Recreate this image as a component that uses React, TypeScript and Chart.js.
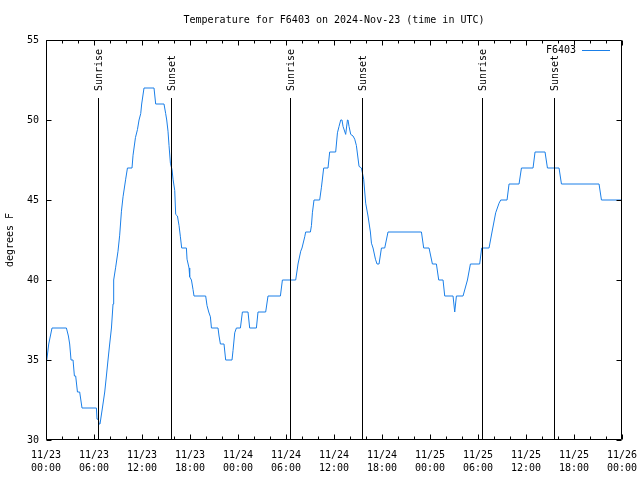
import React, { useEffect, useRef } from "react";
import { Chart, registerables } from "chart.js";

Chart.register(...registerables);

const TITLE = "Temperature for F6403 on 2024-Nov-23 (time in UTC)";
const SERIES_NAME = "F6403";
const Y_LABEL = "degrees F";

// hours since 2024-11-23 00:00 UTC
const HOURS = [
  0.1, 0.34, 0.75, 2.55, 2.8, 2.96, 3.13, 3.38, 3.55, 3.71, 3.93, 4.21, 4.5, 6.3, 6.38, 6.55, 6.63, 6.75,
  7.05, 7.34, 7.55, 7.75, 7.96, 8.18, 8.38, 8.46, 8.71, 9.0, 9.21, 9.43, 9.63, 9.96, 10.18, 10.75, 10.88,
  11.18, 11.43, 11.63, 11.84, 11.96, 12.25, 13.5, 13.71, 14.75, 14.96, 15.09, 15.25, 15.38, 15.55, 15.75,
  15.88, 16.09, 16.21, 16.43, 16.63, 16.8, 16.96, 17.55, 17.63, 17.88, 17.96, 18.18, 18.38, 18.5, 19.96,
  20.13, 20.34, 20.55, 20.68, 21.5, 21.63, 21.8, 22.25, 22.46, 23.25, 23.38, 23.59, 23.8, 24.3, 24.55,
  25.25, 25.46, 26.3, 26.5, 27.46, 27.75, 29.3, 29.55, 31.21, 31.43, 31.5, 31.84, 32.0, 32.34, 32.46,
  33.05, 33.18, 33.3, 33.5, 34.21, 34.43, 34.71, 35.25, 35.46, 36.21, 36.43, 36.63, 36.84, 37.0, 37.13,
  37.46, 37.68, 37.75, 37.88, 38.09, 38.38, 38.59, 38.8, 39.13, 39.43, 39.71, 39.96, 40.25, 40.55, 40.68,
  40.88, 41.18, 41.38, 41.63, 41.93, 42.34, 42.75, 46.93, 47.21, 47.88, 48.3, 48.8, 49.09, 49.63, 49.84,
  50.88, 51.09, 51.3, 52.13, 52.68, 53.05, 54.21, 54.46, 55.38, 55.75, 56.21, 56.63, 56.84, 57.63, 57.88,
  59.13, 59.43, 60.88, 61.13, 62.38, 62.68, 64.13, 64.43, 69.13, 69.43, 72.0,
];

const TEMPS_F = [
  35, 36, 37, 37, 36.5, 36, 35, 35, 34, 34, 33, 33, 32, 32, 31.3, 31.3, 31, 31,
  32, 33, 34, 35, 36, 37, 38.5, 40, 40.8, 41.8, 42.8, 44.3, 45.2, 46.3, 47, 47, 47.8,
  48.9, 49.4, 50, 50.4, 51, 52, 52, 51, 51, 50.4, 50, 49.3, 48.4, 47.3, 46.9,
  46.3, 45.6, 44.1, 44, 43.4, 42.7, 42, 42, 41.3, 40.75, 40.2, 40, 39.4, 39, 39,
  38.4, 38, 37.7, 37, 37, 36.5, 36, 36, 35, 35, 35.6, 36.7, 37, 37, 38,
  38, 37, 37, 38, 38, 39, 39, 40, 40, 40.75, 41, 41.8, 42, 42.7, 43,
  43, 43.4, 44.2, 45, 45, 45.8, 47, 47, 48, 48, 49.2, 49.6, 50, 50, 49.6,
  49.1, 50, 50, 49.6, 49.1, 49, 48.8, 48.4, 47.1, 47, 46.3, 44.8, 44, 43, 42.3,
  42, 41.3, 41, 41, 42, 42, 43, 43, 42, 42, 41, 41, 40, 40, 39,
  39, 38, 39, 39, 40, 41, 41, 42, 42, 43, 44.2, 44.8, 45, 45, 46,
  46, 47, 47, 48, 48, 47, 47, 46, 46, 45, 45,
];

const TICK_DATES = ["11/23", "11/23", "11/23", "11/23", "11/24", "11/24", "11/24", "11/24", "11/25", "11/25", "11/25", "11/25", "11/26"];
const TICK_TIMES = ["00:00", "06:00", "12:00", "18:00", "00:00", "06:00", "12:00", "18:00", "00:00", "06:00", "12:00", "18:00", "00:00"];
const Y_TICKS = [30, 35, 40, 45, 50, 55];

const SUN_EVENTS = ["Sunrise", "Sunset", "Sunrise", "Sunset", "Sunrise", "Sunset"];
const SUN_HOURS = [6.5, 15.6, 30.5, 39.5, 54.5, 63.5];

const FONT_FAMILY = "'DejaVu Sans Mono', 'Liberation Mono', monospace";
const FONT = `10px ${FONT_FAMILY}`;
const LINE_COLOR = "#1a7fe8";

const framePlugin = {
  id: "gnuframe",
  afterDatasetsDraw(chart: any) {
    const { ctx, chartArea: a, scales } = chart;
    const xs = scales.x;
    const ys = scales.y;
    const L = Math.round(a.left) + 0.5;
    const R = Math.round(a.right) - 0.5;
    const T = Math.round(a.top) + 0.5;
    const B = Math.round(a.bottom) - 0.5;
    ctx.save();
    ctx.strokeStyle = "#000";
    ctx.fillStyle = "#000";
    ctx.lineWidth = 1;
    ctx.font = FONT;

    // sunrise / sunset markers
    SUN_HOURS.forEach((h, i) => {
      const px = Math.round(xs.getPixelForValue(h)) + 0.5;
      ctx.beginPath();
      ctx.moveTo(px, 98);
      ctx.lineTo(px, B);
      ctx.stroke();
      ctx.save();
      ctx.translate(px + 1, 91);
      ctx.rotate(-Math.PI / 2);
      ctx.textAlign = "left";
      ctx.textBaseline = "middle";
      ctx.fillText(SUN_EVENTS[i], 0, 0);
      ctx.restore();
    });

    // frame
    ctx.beginPath();
    ctx.moveTo(L, T);
    ctx.lineTo(R, T);
    ctx.lineTo(R, B);
    ctx.lineTo(L, B);
    ctx.closePath();
    ctx.stroke();

    // x ticks (major every 6h, minor every 2h), inward on bottom and top
    ctx.beginPath();
    for (let h = 0; h <= 72; h += 2) {
      const px = Math.round(xs.getPixelForValue(h)) + 0.5;
      const len = h % 6 === 0 ? 5 : 3;
      ctx.moveTo(px, B);
      ctx.lineTo(px, B - len);
      ctx.moveTo(px, T);
      ctx.lineTo(px, T + len);
    }
    // y ticks, inward on left and right
    Y_TICKS.forEach((v) => {
      const py = Math.round(ys.getPixelForValue(v)) + 0.5;
      ctx.moveTo(L, py);
      ctx.lineTo(L + 5, py);
      ctx.moveTo(R, py);
      ctx.lineTo(R - 5, py);
    });
    ctx.stroke();

    // title
    ctx.textAlign = "center";
    ctx.textBaseline = "middle";
    ctx.fillText(TITLE, (a.left + a.right) / 2, 20);

    // y axis label
    ctx.save();
    ctx.translate(10, (a.top + a.bottom) / 2);
    ctx.rotate(-Math.PI / 2);
    ctx.fillText(Y_LABEL, 0, 0);
    ctx.restore();

    // legend
    ctx.textAlign = "right";
    ctx.fillText(SERIES_NAME, 576, 50);
    ctx.strokeStyle = LINE_COLOR;
    ctx.beginPath();
    ctx.moveTo(582, 50.5);
    ctx.lineTo(610, 50.5);
    ctx.stroke();

    ctx.restore();
  },
};

export default function App() {
  const ref = useRef<HTMLCanvasElement | null>(null);

  useEffect(() => {
    if (!ref.current) return;
    const points = HOURS.map((h, i) => ({ x: h, y: TEMPS_F[i] }));
    const chart = new Chart(ref.current, {
      type: "line",
      data: {
        datasets: [
          {
            label: SERIES_NAME,
            data: points,
            borderColor: LINE_COLOR,
            backgroundColor: LINE_COLOR,
            borderWidth: 1,
            pointRadius: 0,
            tension: 0,
            fill: false,
          },
        ],
      },
      options: {
        animation: false,
        responsive: false,
        maintainAspectRatio: false,
        layout: { padding: { top: 40, right: 18, left: 0, bottom: 0 } },
        plugins: {
          legend: { display: false },
          title: { display: false },
          tooltip: { enabled: false },
        },
        scales: {
          x: {
            type: "linear",
            min: 0,
            max: 72,
            grid: { display: false, drawTicks: false },
            border: { display: false },
            afterFit: (s: any) => {
              s.height = 40;
              s.paddingLeft = 0;
              s.paddingRight = 0;
            },
            ticks: {
              stepSize: 6,
              autoSkip: false,
              maxRotation: 0,
              minRotation: 0,
              padding: 9,
              color: "#000",
              font: { family: FONT_FAMILY, size: 10, lineHeight: 1.3 },
              callback: (value: any) => {
                const i = Math.round(Number(value) / 6);
                return [TICK_DATES[i], TICK_TIMES[i]];
              },
            },
          },
          y: {
            type: "linear",
            min: 30,
            max: 55,
            grid: { display: false, drawTicks: false },
            border: { display: false },
            afterFit: (s: any) => {
              s.width = 46;
              s.paddingTop = 0;
              s.paddingBottom = 0;
            },
            ticks: {
              stepSize: 5,
              padding: 7,
              color: "#000",
              font: { family: FONT_FAMILY, size: 10 },
            },
          },
        },
      },
      plugins: [framePlugin],
    });
    return () => chart.destroy();
  }, []);

  return (
    <div style={{ position: "absolute", left: 0, top: 0, width: 640, height: 480, background: "#fff" }}>
      <canvas ref={ref} width={640} height={480} />
    </div>
  );
}
